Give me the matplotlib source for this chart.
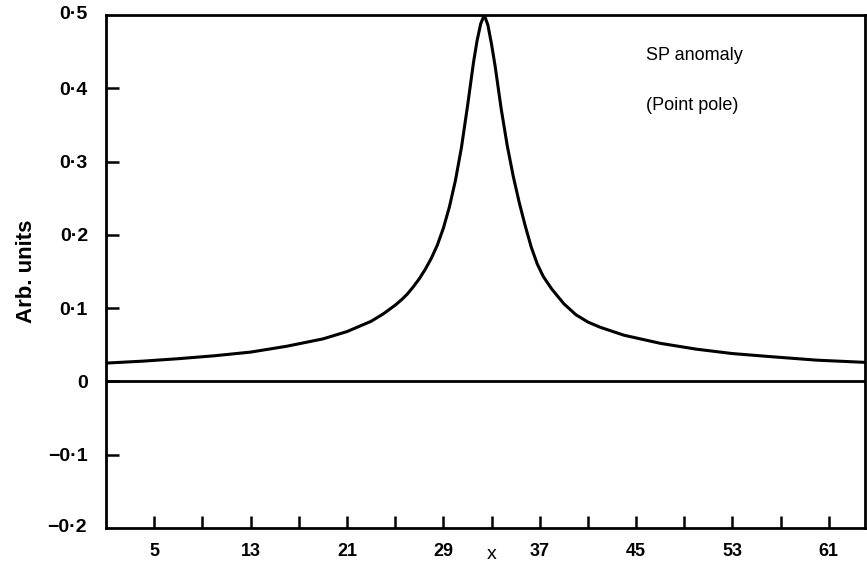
import numpy as np
import matplotlib
matplotlib.use("Agg")
import matplotlib.pyplot as plt

# values
x = [1, 4, 7, 10, 13, 16, 19, 21, 22, 23, 24, 25, 25.5, 26, 26.5, 27, 27.5,
     28, 28.5, 29, 29.5, 30, 30.5, 31, 31.5, 31.8, 32.1, 32.4, 32.7, 33.0,
     33.3, 33.8, 34.3, 34.8, 35.3, 35.8, 36.3, 36.8, 37.3, 38, 38.5, 39, 40,
     41, 42, 44, 47, 50, 53, 56, 60, 64]
y = [0.025, 0.0276, 0.031, 0.035, 0.040, 0.048, 0.058, 0.068, 0.075, 0.082,
     0.092, 0.104, 0.111, 0.119, 0.129, 0.140, 0.153, 0.168, 0.186, 0.209,
     0.238, 0.274, 0.319, 0.375, 0.435, 0.465, 0.488, 0.500, 0.486, 0.460,
     0.430, 0.372, 0.322, 0.280, 0.244, 0.212, 0.183, 0.160, 0.143, 0.126,
     0.116, 0.106, 0.091, 0.081, 0.074, 0.063, 0.052, 0.044, 0.038, 0.034,
     0.029, 0.026]

major_x = [5, 13, 21, 29, 37, 45, 53, 61]
minor_x = [9, 17, 25, 33, 41, 49, 57]
y_ticks = [-0.1, 0, 0.1, 0.2, 0.3, 0.4]
y_labels = ["\u22120\u00b71", "0", "0\u00b71", "0\u00b72", "0\u00b73", "0\u00b74"]

plt.rcParams['font.family'] = ['Liberation Sans', 'DejaVu Sans']

fig = plt.figure(figsize=(8.67, 5.65), dpi=100)
ax = fig.add_axes([0.1223, 0.0655, 0.8754, 0.908])

ax.plot(x, y, color='black', lw=2.2, solid_joinstyle='miter')
ax.axhline(0, color='black', lw=2)

ax.set_xlim(1, 64)
ax.set_ylim(-0.2, 0.5)

for s in ax.spines.values():
    s.set_linewidth(2)
    s.set_color('black')

ax.set_xticks(major_x)
ax.set_xticklabels([str(v) for v in major_x], fontweight='bold', fontsize=13)
ax.set_xticks(minor_x, minor=True)
ax.set_yticks(y_ticks)
ax.set_yticklabels(y_labels, fontweight='bold', fontsize=14)
ax.tick_params(axis='both', which='both', direction='in', length=9, width=1.8,
               color='black')
ax.tick_params(axis='x', pad=11)
ax.tick_params(axis='y', pad=13)

# corner labels (no visible tick marks at the box corners)
ax.text(-0.025, 0.5, "0\u00b75", transform=ax.get_yaxis_transform(),
        ha='right', va='center', fontweight='bold', fontsize=14)
ax.text(-0.025, -0.2, "\u22120\u00b72", transform=ax.get_yaxis_transform(),
        ha='right', va='center', fontweight='bold', fontsize=14)

ax.set_ylabel("Arb. units", fontweight='bold', fontsize=16, labelpad=8)
ax.annotate("x", xy=(33, 0), xycoords=('data', 'axes fraction'),
            xytext=(0, -13), textcoords='offset points',
            ha='center', va='top', fontsize=14)

ax.text(45.8, 0.445, "SP anomaly", ha='left', va='center', fontsize=13)
ax.text(45.8, 0.377, "(Point pole)", ha='left', va='center', fontsize=13)

fig.savefig("out.png", dpi=100)
